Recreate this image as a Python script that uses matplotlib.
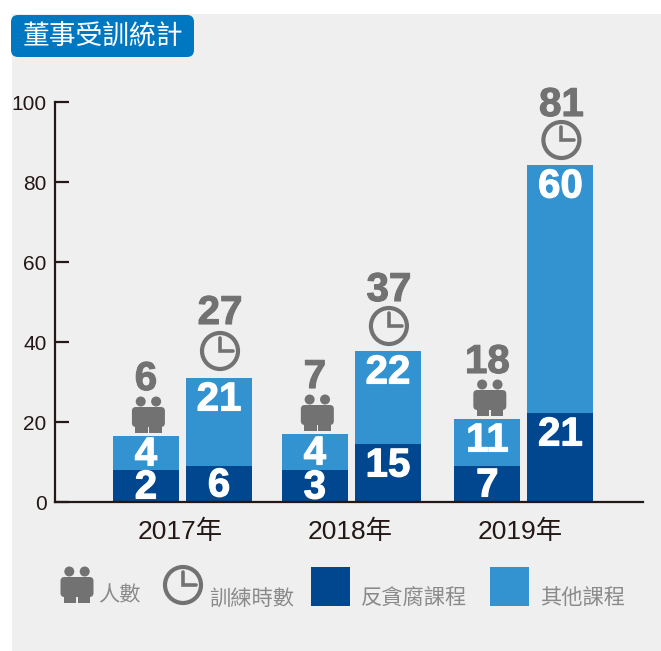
import matplotlib
matplotlib.use('Agg')
import matplotlib.pyplot as plt
from matplotlib.patches import Circle, FancyBboxPatch, Rectangle
import matplotlib.patheffects as pe

plt.rcParams['font.family'] = ['Liberation Sans', 'Noto Sans CJK TC']

years = ['2017年', '2018年', '2019年']
yticks = [0, 20, 40, 60, 80, 100]

# bar heights as drawn (not proportional to the printed numbers)
people_anti = [8, 8, 9]
people_other = [8.5, 9, 11.75]
hours_anti = [9, 14.5, 22.25]
hours_other = [22, 23.25, 62]

# printed numbers
people_total = [6, 7, 18]
people_anti_lab = [2, 3, 7]
people_other_lab = [4, 4, 11]
hours_total = [27, 37, 81]
hours_anti_lab = [6, 15, 21]
hours_other_lab = [21, 22, 60]

# layout only
group_x = [0, 0.994, 2.009]
tick_x = [-0.012, 0.988, 1.988]
clock_lift = [2, 0, 0]
label_lift = [4, 0, -1]

DARK = '#00478f'
LIGHT = '#3393d1'
GRAY = '#727272'
INK = '#231815'
W, H = 661, 651

fig = plt.figure(figsize=(W / 100, H / 100), dpi=100, facecolor='white')

# overlay in pixel coords for panel, badge, icons and legend
bg = fig.add_axes([0, 0, 1, 1], zorder=0)
bg.set_xlim(0, W)
bg.set_ylim(H, 0)
bg.axis('off')
bg.add_patch(Rectangle((12, 14), W - 12, H - 14, fc='#efefef', ec='none'))

ax = fig.add_axes([55 / W, 1 - 502 / H, 588 / W, 400 / H], zorder=1)
ax.patch.set_alpha(0)
ax.set_xlim(-0.75, 2.71)
ax.set_ylim(0, 100)

top = fig.add_axes([0, 0, 1, 1], zorder=2)
top.set_xlim(0, W)
top.set_ylim(H, 0)
top.axis('off')

for s in ['top', 'right']:
    ax.spines[s].set_visible(False)
for s in ['left', 'bottom']:
    ax.spines[s].set_linewidth(1.6)
    ax.spines[s].set_color(INK)
    ax.spines[s].set_zorder(5)

ax.set_yticks(yticks)
ax.tick_params(axis='y', direction='in', length=10, width=1.6, color=INK,
               labelsize=15, labelcolor=INK, pad=6)
ax.set_xticks(tick_x)
ax.set_xticklabels(years)
ax.tick_params(axis='x', length=0, labelsize=19, labelcolor=INK, pad=13)


def px(x, y):
    return top.transData.inverted().transform(ax.transData.transform((x, y)))


def person(cx, cy):
    # pair of figures sharing one body, cx/cy is the icon centre
    top.add_patch(FancyBboxPatch((cx - 16.5, cy - 8), 33, 20,
                                 boxstyle='round,pad=0,rounding_size=4', fc=GRAY, ec='none'))
    for sign in (-1, 1):
        top.add_patch(Circle((cx + sign * 7.7, cy - 13.5), 5, fc=GRAY, ec='none'))
        top.add_patch(Rectangle((cx + sign * 7 - 6.2, cy + 10), 12.4, 8, fc=GRAY, ec='none'))


def clock(cx, cy, r=18):
    top.add_patch(Circle((cx, cy), r, fc='none', ec=GRAY, lw=3))
    top.plot([cx, cx, cx + r * 0.7], [cy - r * 0.72, cy, cy], color=GRAY, lw=2.6,
             solid_capstyle='round', solid_joinstyle='miter')


def big_text(x, y, val, color):
    top.text(x, y, str(val), ha='center', va='center_baseline', color=color, fontsize=29,
             fontweight='bold', path_effects=[pe.withStroke(linewidth=0.8, foreground=color)])


def bar_label(x, y0, h, val):
    # sits mid segment, or near the top of a tall one
    _, p_top = px(x, y0 + h)
    _, p_bot = px(x, y0)
    yy = p_top + min((p_bot - p_top) / 2, 20)
    px_x, _ = px(x, 0)
    big_text(px_x, yy - 2.5, val, 'white')


offset = 0.215
width = 0.388
for i in range(len(years)):
    xa = group_x[i] - offset
    xb = group_x[i] + offset
    ax.bar(xa, people_anti[i], width, color=DARK)
    ax.bar(xa, people_other[i], width, bottom=people_anti[i], color=LIGHT)
    ax.bar(xb, hours_anti[i], width, color=DARK)
    ax.bar(xb, hours_other[i], width, bottom=hours_anti[i], color=LIGHT)

    bar_label(xa, 0, people_anti[i], people_anti_lab[i])
    bar_label(xa, people_anti[i], people_other[i], people_other_lab[i])
    bar_label(xb, 0, hours_anti[i], hours_anti_lab[i])
    bar_label(xb, hours_anti[i], hours_other[i], hours_other_lab[i])

    xp, yp = px(xa, people_anti[i] + people_other[i])
    person(xp + 2.5, yp - 21)
    big_text(xp, yp - 61, people_total[i], GRAY)
    xh, yh = px(xb, hours_anti[i] + hours_other[i])
    clock(xh + 1, yh - 25 - clock_lift[i])
    big_text(xh + 1, yh - 65 - label_lift[i], hours_total[i], GRAY)

# title badge
top.add_patch(FancyBboxPatch((11, 15), 183, 42, boxstyle='round,pad=0,rounding_size=7',
                             fc='#0078c1', ec='none'))
top.text(102.5, 36.5, '董事受訓統計', ha='center', va='center', color='white', fontsize=19.3, fontweight='light')

# legend
legend_c = '#8a8a8a'
person(77, 585)
clock(183, 585)
top.add_patch(Rectangle((311, 567), 39, 39, fc=DARK, ec='none'))
top.add_patch(Rectangle((490, 567), 39, 39, fc=LIGHT, ec='none'))
for x, y, t in [(98, 596, '人數'), (209, 599, '訓練時數'), (361, 599, '反貪腐課程'), (540, 599, '其他課程')]:
    top.text(x, y, t, ha='left', va='center', color=legend_c, fontsize=15.3, fontweight='light')

fig.savefig('out.png', dpi=100, facecolor='white')
